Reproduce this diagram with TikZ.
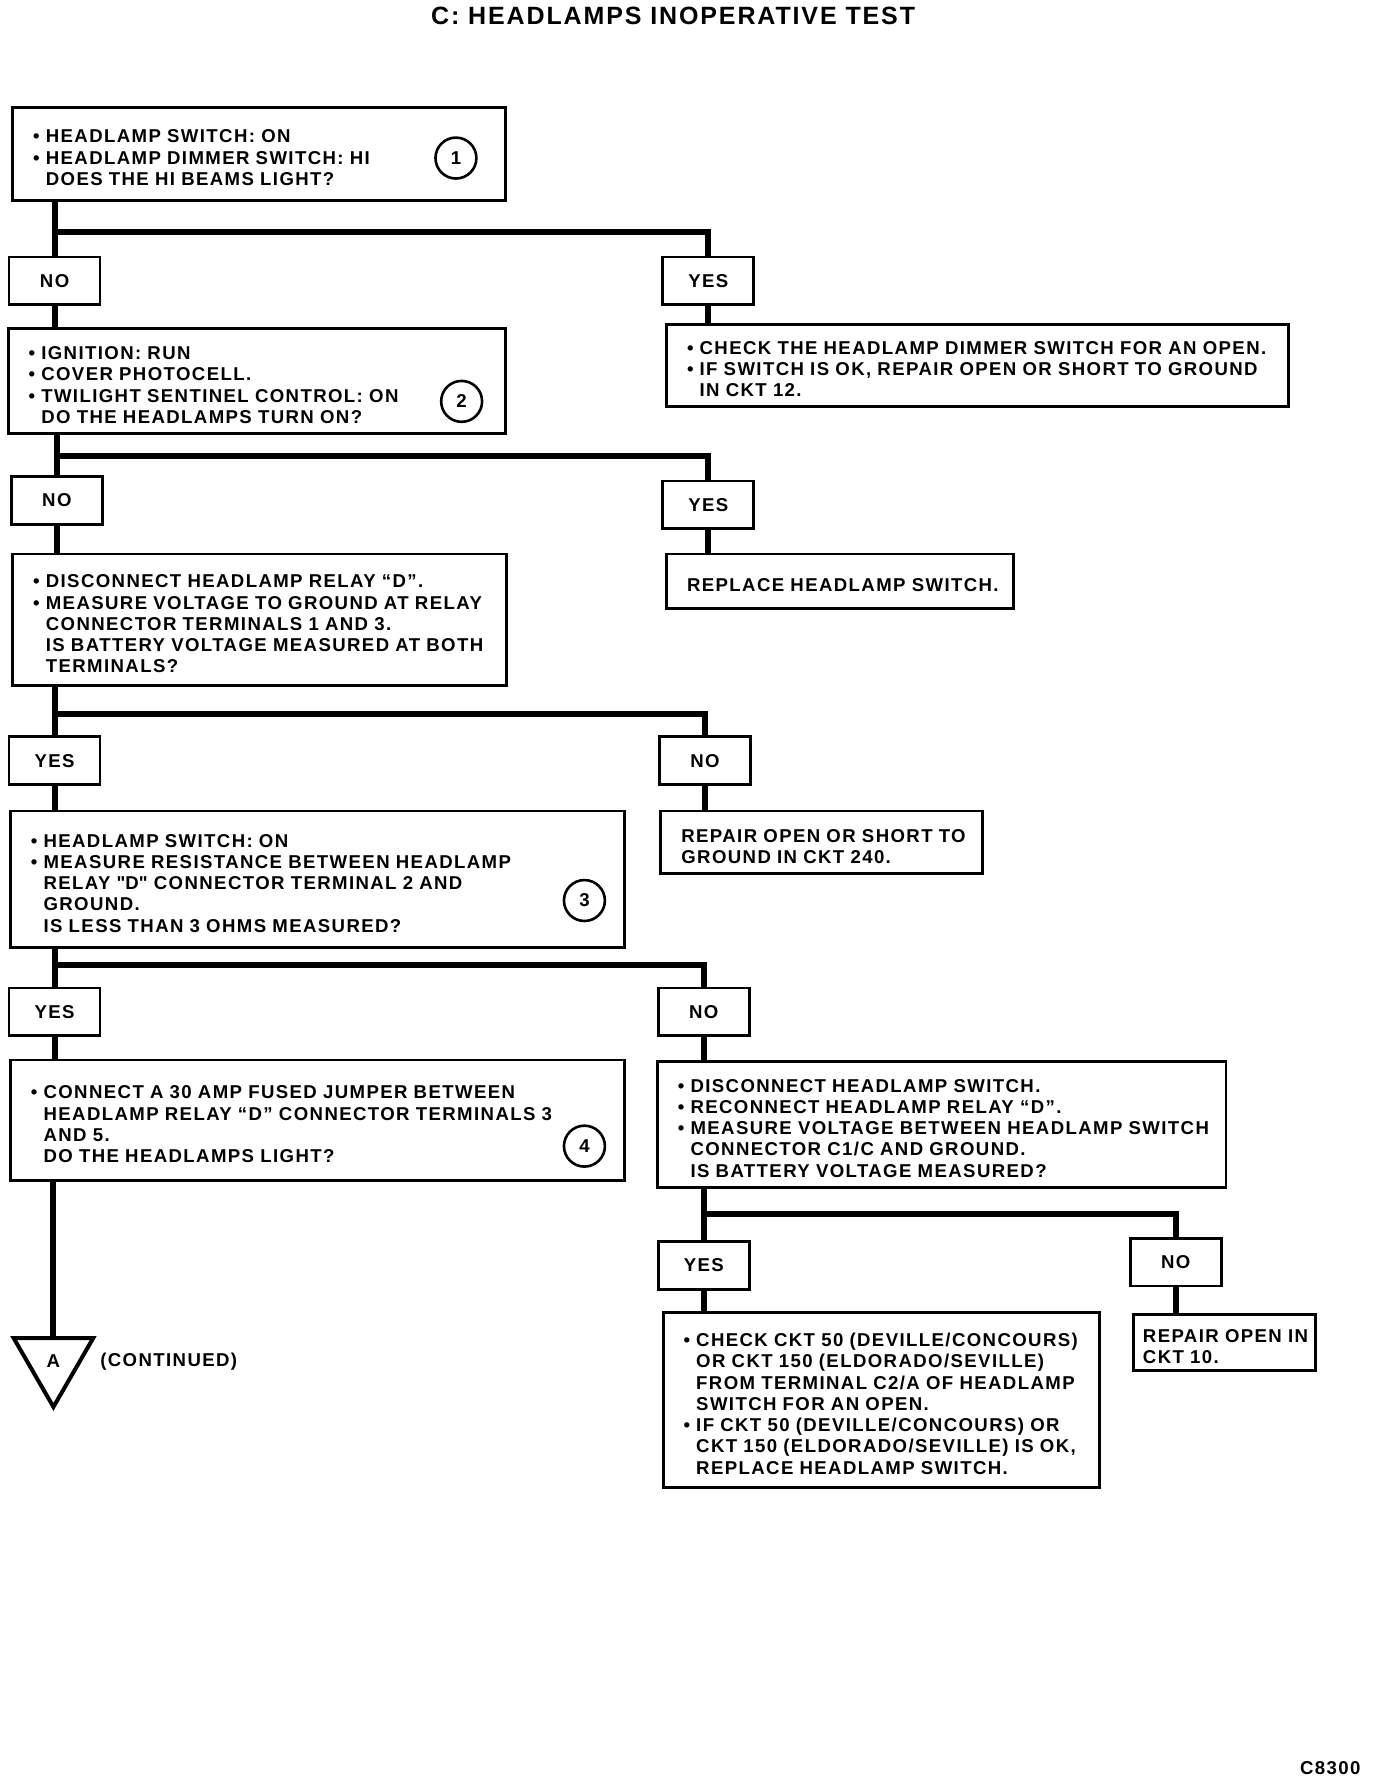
\documentclass[tikz,border=0pt]{standalone}
\usepackage{fontspec}
\setmainfont{Liberation Sans}[LetterSpace=7.5]
\usetikzlibrary{shapes.geometric}

\newcommand{\puce}[1]{\mbox{\makebox[6.3pt][l]{•}#1}}
\newcommand{\suite}[1]{\mbox{\hspace*{6.3pt}#1}}
\newcommand{\ligne}[1]{\mbox{#1}}

\tikzset{
  boite/.style 2 args={draw, line width=1.4pt, anchor=north west, align=left,
    inner xsep=10.2pt, inner ysep=0pt,
    text width={(#1-36)*0.5686pt}, minimum width={#1*0.5686pt},
    minimum height={#2*0.5686pt}, execute at begin node={\rule{0pt}{10.5pt}}},
  rep/.style={draw, line width=1.4pt, inner sep=0pt,
    minimum width={80*0.5686pt}, minimum height={42*0.5686pt}},
  numero/.style={draw, circle, line width=1.3pt, inner sep=0pt,
    minimum size={36*0.5686pt}},
  lien/.style={line width=3pt},
}

\begin{document}
\begin{tikzpicture}[x=0.5686pt, y=-0.5686pt,
    font=\fontsize{9.3}{10.63}\selectfont\bfseries]
    % Cadre de la page
    \useasboundingbox (0,0) rectangle (1210.2,1574.3);

    % Titre
    \node[font=\fontsize{12.5}{15}\selectfont\bfseries] (titre) at (592,14)
        {C: HEADLAMPS INOPERATIVE TEST};

    % Boites de test (colonne de gauche)
    \node[boite={433}{82}] (b1) at (10,93)
        {\puce{HEADLAMP SWITCH: ON}\\
         \puce{HEADLAMP DIMMER SWITCH: HI}\\
         \suite{DOES THE HI BEAMS LIGHT?}};
    \node[boite={437}{92}] (b2) at (6,288)
        {\puce{IGNITION: RUN}\\
         \puce{COVER PHOTOCELL.}\\
         \puce{TWILIGHT SENTINEL CONTROL: ON}\\
         \suite{DO THE HEADLAMPS TURN ON?}};
    \node[boite={434}{116}] (b3) at (10,486)
        {\puce{DISCONNECT HEADLAMP RELAY “D”.}\\
         \puce{MEASURE VOLTAGE TO GROUND AT RELAY}\\
         \suite{CONNECTOR TERMINALS 1 AND 3.}\\
         \suite{IS BATTERY VOLTAGE MEASURED AT BOTH}\\
         \suite{TERMINALS?}};
    \node[boite={540}{120}] (b4) at (8,712)
        {\puce{HEADLAMP SWITCH: ON}\\
         \puce{MEASURE RESISTANCE BETWEEN HEADLAMP}\\
         \suite{RELAY \textquotedbl D\textquotedbl\ CONNECTOR TERMINAL 2 AND}\\
         \suite{GROUND.}\\
         \suite{IS LESS THAN 3 OHMS MEASURED?}};
    \node[boite={540}{106}] (b5) at (8,931)
        {\puce{CONNECT A 30 AMP FUSED JUMPER BETWEEN}\\
         \suite{HEADLAMP RELAY “D” CONNECTOR TERMINALS 3}\\
         \suite{AND 5.}\\
         \suite{DO THE HEADLAMPS LIGHT?}};

    % Boites de reparation (colonne de droite)
    \node[boite={547}{72}] (chk) at (585,284)
        {\puce{CHECK THE HEADLAMP DIMMER SWITCH FOR AN OPEN.}\\
         \puce{IF SWITCH IS OK, REPAIR OPEN OR SHORT TO GROUND}\\
         \suite{IN CKT 12.}};
    \node[boite={305}{48}] (rempl) at (585,486)
        {\ligne{REPLACE HEADLAMP SWITCH.}};
    \node[boite={283}{55}] (rep240) at (580,712)
        {\ligne{REPAIR OPEN OR SHORT TO}\\ \ligne{GROUND IN CKT 240.}};
    \node[boite={500}{111}] (b6) at (577,932)
        {\puce{DISCONNECT HEADLAMP SWITCH.}\\
         \puce{RECONNECT HEADLAMP RELAY “D”.}\\
         \puce{MEASURE VOLTAGE BETWEEN HEADLAMP SWITCH}\\
         \suite{CONNECTOR C1/C AND GROUND.}\\
         \suite{IS BATTERY VOLTAGE MEASURED?}};
    \node[boite={384}{154}] (b7) at (582,1153)
        {\puce{CHECK CKT 50 (DEVILLE/CONCOURS)}\\
         \suite{OR CKT 150 (ELDORADO/SEVILLE)}\\
         \suite{FROM TERMINAL C2/A OF HEADLAMP}\\
         \suite{SWITCH FOR AN OPEN.}\\
         \puce{IF CKT 50 (DEVILLE/CONCOURS) OR}\\
         \suite{CKT 150 (ELDORADO/SEVILLE) IS OK,}\\
         \suite{REPLACE HEADLAMP SWITCH.}};
    \node[boite={160}{49}, inner xsep=4.5pt, text width={(160-16)*0.5686pt}]
        (b8) at (996,1155) {\ligne{REPAIR OPEN IN}\\ \ligne{CKT 10.}};

    % Numeros des etapes
    \node[numero] (n1) at (401,139) {1};
    \node[numero] (n2) at (406,353) {2};
    \node[numero] (n3) at (514,792) {3};
    \node[numero] (n4) at (514,1008) {4};

    % Reponses OUI / NON
    \foreach \nom/\texte/\x/\y in {non1/NO/48/247, oui1/YES/623/247,
        non2/NO/50/440, oui2/YES/623/444, oui3/YES/48/669, non3/NO/620/669,
        oui4/YES/48/890, non4/NO/619/890, oui5/YES/619/1113, non5/NO/1034/1110}
        \node[rep] (\nom) at (\x,\y) {\texte};

    % Embranchements
    \foreach \haut/\gauche/\droite/\e in {b1/non1/oui1/204, b2/non2/oui2/401,
        b3/oui3/non3/628, b4/oui4/non4/849, b6/oui5/non5/1068} {
        \draw[lien] (\haut.south -| \gauche.north) -- (\gauche.north)
            (\gauche.north |- 0,\e) -| (\droite.north);
    }

    % Liaisons vers les boites suivantes
    \foreach \a/\b in {non1/b2, oui1/chk, non2/b3, oui2/rempl, oui3/b4,
        non3/rep240, oui4/b5, non4/b6, oui5/b7, non5/b8}
        \draw[lien] (\a.south) -- (\a.south |- \b.north);

    % Renvoi A
    \node[draw, regular polygon, regular polygon sides=3,
        shape border rotate=180, line width=2pt, inner sep=0pt,
        minimum size={80.8*0.5686pt}] (tri) at (47,1197) {A};
    \draw[lien] (b5.south -| tri.north) -- (tri.north);
    \node[anchor=west] (cont) at (82,1198) {(CONTINUED)};

    % Reference de la figure
    \node (code) at (1170,1555) {C8300};
\end{tikzpicture}
\end{document}
